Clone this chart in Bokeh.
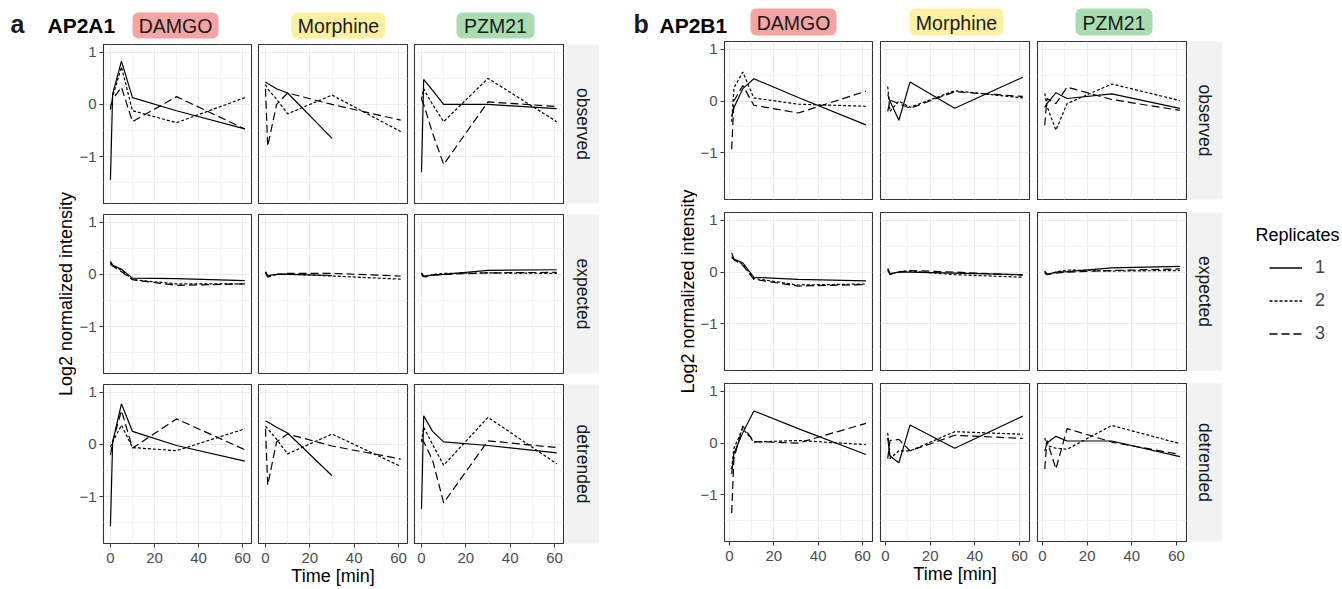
import math
from bokeh.plotting import figure
from bokeh.layouts import row, column
from bokeh.models import Range1d, FixedTicker, Legend, LegendItem, ColumnDataSource
from bokeh.embed import file_html
from bokeh.resources import INLINE
from bokeh.core.properties import value

FONT = "Liberation Sans"
NAN = float("nan")

# ---------------- data ----------------
ligands = ["DAMGO", "Morphine", "PZM21"]
ligand_colors = ["#F5A3A4", "#FDF0A0", "#A9DCB1"]
row_names = ["observed", "expected", "detrended"]
replicates = ["1", "2", "3"]
rep_dash = ["solid", "3 2", "8 4"]
genes = ["AP2A1", "AP2B1"]
panel_letters = ["a", "b"]
y_title = "Log2 normalized intensity"
x_title = "Time [min]"

x_ticks = [0, 20, 40, 60]
x_minor = [10, 30, 50]
y_ticks = [-1, 0, 1]
y_minor = [-1.5, -0.5, 0.5]

time_a = [0, 1, 5, 10, 30, 61]
time_b = [1, 2, 6, 11, 31, 61.5]

# AP2A1 (replicates 1, 2, 3)
a_obs_damgo = [[-1.45, 0.2, 0.83, 0.13, -0.12, -0.47], [-0.1, 0.15, 0.72, -0.12, -0.35, 0.13], [-0.05, 0.1, 0.33, -0.33, 0.15, -0.47]]
a_obs_morphine = [[0.43, 0.4, 0.3, 0.22, -0.65, None], [0.38, 0.3, 0.1, -0.18, 0.18, -0.52], [0.3, -0.8, 0.0, 0.22, 0.0, -0.3]]
a_obs_pzm21 = [[-1.3, 0.48, 0.27, 0.0, 0.0, -0.08], [0.1, 0.3, 0.0, -0.33, 0.5, -0.33], [0.1, 0.0, -0.55, -1.15, 0.05, -0.04]]
a_exp_damgo = [[0.25, 0.18, 0.1, -0.07, -0.08, -0.12], [0.22, 0.17, 0.08, -0.1, -0.18, -0.18], [0.2, 0.16, 0.05, -0.1, -0.21, -0.18]]
a_exp_morphine = [[0.05, -0.02, 0.0, 0.0, -0.02, None], [0.05, -0.03, 0.0, 0.01, -0.03, -0.09], [0.03, -0.05, 0.0, 0.02, 0.02, -0.03]]
a_exp_pzm21 = [[0.03, -0.04, -0.01, 0.0, 0.08, 0.09], [0.0, -0.06, 0.0, 0.02, 0.03, 0.02], [0.02, -0.03, -0.02, 0.0, 0.03, 0.04]]
a_det_damgo = [[-1.57, 0.05, 0.78, 0.25, -0.02, -0.32], [-0.05, 0.05, 0.37, -0.06, -0.12, 0.3], [-0.2, 0.05, 0.65, -0.07, 0.49, -0.1]]
a_det_morphine = [[0.45, 0.43, 0.33, 0.22, -0.6, None], [0.35, 0.3, 0.1, -0.18, 0.2, -0.42], [0.3, -0.78, 0.05, 0.2, -0.03, -0.28]]
a_det_pzm21 = [[-1.24, 0.55, 0.25, 0.05, -0.02, -0.16], [0.05, 0.33, 0.0, -0.4, 0.52, -0.37], [0.1, 0.05, -0.3, -1.12, 0.07, -0.06]]

# AP2B1 (replicates 1, 2, 3)
b_obs_damgo = [[-0.3, -0.13, 0.24, 0.43, 0.07, -0.46], [-0.4, 0.25, 0.56, 0.06, -0.06, -0.1], [-0.93, 0.0, 0.3, -0.08, -0.23, 0.19]]
b_obs_morphine = [[0.13, 0.0, -0.37, 0.37, -0.14, 0.46], [0.28, -0.2, 0.0, -0.12, 0.2, 0.06], [-0.2, 0.02, -0.05, -0.14, 0.18, 0.09]]
b_obs_pzm21 = [[-0.12, -0.05, 0.16, 0.05, 0.14, -0.14], [0.15, -0.1, -0.56, -0.05, 0.33, 0.01], [-0.47, 0.05, -0.05, 0.27, 0.03, -0.18]]
b_exp_damgo = [[0.37, 0.25, 0.18, -0.1, -0.14, -0.17], [0.3, 0.25, 0.15, -0.12, -0.25, -0.23], [0.28, 0.24, 0.13, -0.14, -0.27, -0.24]]
b_exp_morphine = [[0.07, -0.03, 0.0, 0.0, -0.02, -0.05], [0.05, -0.05, 0.01, 0.02, -0.05, -0.1], [0.03, -0.04, 0.0, 0.03, 0.0, -0.06]]
b_exp_pzm21 = [[0.02, -0.05, 0.0, 0.01, 0.08, 0.11], [-0.01, -0.06, 0.0, 0.04, 0.02, 0.03], [0.01, -0.04, -0.02, 0.0, 0.03, 0.06]]
b_det_damgo = [[-0.6, -0.2, 0.2, 0.62, 0.28, -0.22], [-0.5, -0.1, 0.28, 0.02, 0.05, -0.03], [-1.35, -0.3, 0.33, 0.03, 0.0, 0.38]]
b_det_morphine = [[0.1, -0.25, -0.38, 0.35, -0.1, 0.52], [0.2, -0.3, -0.15, -0.15, 0.22, 0.17], [-0.3, 0.05, 0.07, -0.15, 0.15, 0.09]]
b_det_pzm21 = [[-0.15, 0.0, 0.13, 0.04, 0.04, -0.26], [0.1, -0.05, -0.1, -0.12, 0.34, -0.01], [-0.5, 0.05, -0.5, 0.28, 0.02, -0.22]]

# ---------------- layout (pixels) ----------------
Y_RANGE = (-1.9, 1.15)
HDR_H = 40
FRAME_W = 149
BLOCK_H = 549

blocks = [
    dict(time=time_a, xr=(-3.15, 64.05),
         data=[[a_obs_damgo, a_obs_morphine, a_obs_pzm21],
               [a_exp_damgo, a_exp_morphine, a_exp_pzm21],
               [a_det_damgo, a_det_morphine, a_det_pzm21]],
         ylab_w=76, ylab_x=65, cols=[(26, 4), (3, 4), (3, 2)], strip_w=34,
         rows=[(4, 159, 5), (6, 159, 5), (6, 159, 46)]),
    dict(time=time_b, xr=(-2.24, 64.48),
         data=[[b_obs_damgo, b_obs_morphine, b_obs_pzm21],
               [b_exp_damgo, b_exp_morphine, b_exp_pzm21],
               [b_det_damgo, b_det_morphine, b_det_pzm21]],
         ylab_w=98, ylab_x=88, cols=[(26, 4), (4, 4), (4, 1)], strip_w=35,
         rows=[(1, 158, 6), (7, 158, 6), (7, 158, 48)]),
]


def style_axis(ax):
    ax.major_label_text_font = FONT
    ax.major_label_text_font_size = "15px"
    ax.major_label_text_color = "#4D4D4D"
    ax.major_tick_out = 4
    ax.major_tick_in = 0
    ax.major_tick_line_color = "#333333"
    ax.minor_tick_line_color = None
    ax.axis_line_color = None
    ax.major_label_standoff = 3


def bare(width, height, xr, yr, borders=(0, 0, 0, 0), title=None):
    l, r, t, b = borders
    f = figure(width=width, height=height, x_range=Range1d(*xr), y_range=Range1d(*yr),
               x_axis_location=None, y_axis_location=None,
               min_border_left=l, min_border_right=r, min_border_top=t, min_border_bottom=b,
               output_backend="svg", toolbar_location=None, title=title)
    f.grid.visible = False
    f.outline_line_color = None
    f.border_fill_color = "white"
    f.background_fill_color = "white"
    return f


def make_panel(time, series, xr, cb, rb, ri, ci):
    lb, rgt = cb
    tb, fh, bb = rb
    show_x = ri == 2
    show_y = ci == 0
    p = figure(width=lb + FRAME_W + rgt, height=tb + fh + bb,
               x_range=Range1d(*xr), y_range=Range1d(*Y_RANGE),
               x_axis_location="below" if show_x else None,
               y_axis_location="left" if show_y else None,
               min_border_left=lb, min_border_right=rgt, min_border_top=tb, min_border_bottom=bb,
               output_backend="svg", toolbar_location=None, title=None)
    p.xgrid.ticker = FixedTicker(ticks=x_ticks, minor_ticks=x_minor)
    p.ygrid.ticker = FixedTicker(ticks=y_ticks, minor_ticks=y_minor)
    p.grid.grid_line_color = "#EBEBEB"
    p.grid.grid_line_width = 1.1
    p.grid.minor_grid_line_color = "#F3F3F3"
    p.grid.minor_grid_line_width = 1
    p.outline_line_color = "#333333"
    p.outline_line_width = 1.1
    p.background_fill_color = "white"
    p.border_fill_color = "white"
    if show_x:
        p.xaxis.ticker = FixedTicker(ticks=x_ticks, minor_ticks=x_minor)
        style_axis(p.xaxis)
        p.xaxis.major_label_standoff = 5
        if ci == 1:
            p.xaxis.axis_label = x_title
            p.xaxis.axis_label_text_font = FONT
            p.xaxis.axis_label_text_font_size = "18px"
            p.xaxis.axis_label_text_font_style = "normal"
            p.xaxis.axis_label_text_color = "black"
            p.xaxis.axis_label_standoff = 0
    if show_y:
        p.yaxis.ticker = FixedTicker(ticks=y_ticks, minor_ticks=y_minor)
        style_axis(p.yaxis)
    for k, vals in enumerate(series):
        ys = [NAN if v is None else v for v in vals]
        src = ColumnDataSource(dict(t=time, v=ys))
        p.line("t", "v", source=src, line_color="black", line_width=1.2,
               line_dash=rep_dash[k])
    return p


def make_strip(name, w, rb):
    tb, fh, bb = rb
    s = bare(w, tb + fh + bb, (0, 1), (0, 1), (0, 0, tb, bb))
    s.background_fill_color = "#F2F2F2"
    s.text(x=[0.5], y=[0.5], text=[name], angle=-math.pi / 2,
           text_align="center", text_baseline="middle",
           text_font=value(FONT), text_font_size="17.5px", text_color="#1A1A1A")
    return s


def make_ylab(b):
    w = b["ylab_w"]
    r1, r2 = b["rows"][0], b["rows"][1]
    yc = HDR_H + r1[0] + r1[1] + r1[2] + r2[0] + r2[1] / 2
    f = bare(w, BLOCK_H, (0, w), (HDR_H + BLOCK_H, HDR_H))
    f.text(x=[b["ylab_x"]], y=[yc], text=[y_title], angle=math.pi / 2,
           text_align="center", text_baseline="middle",
           text_font=value(FONT), text_font_size="18px", text_color="black")
    return f


block_layouts = []
for b in blocks:
    rows_l = []
    for ri, rb in enumerate(b["rows"]):
        figs = [make_panel(b["time"], b["data"][ri][ci], b["xr"], cb, rb, ri, ci)
                for ci, cb in enumerate(b["cols"])]
        figs.append(make_strip(row_names[ri], b["strip_w"], rb))
        rows_l.append(row(figs, spacing=0))
    block_layouts.append(row([make_ylab(b), column(rows_l, spacing=0)], spacing=0))

# ---------------- legend ----------------
lg = bare(120, BLOCK_H, (0, 1), (0, 1), (47, 0, 217, 0), title="Replicates")
lg.title.text_font = FONT
lg.title.text_font_size = "18px"
lg.title.text_font_style = "normal"
lg.title.text_color = "black"
lg.title.align = "left"
lg.title.offset = -14
lg.title.standoff = 25
leg_items = []
for k, rep in enumerate(replicates):
    r = lg.line(x=[5, 6], y=[5, 5], line_color="black", line_width=1.6, line_dash=rep_dash[k])
    leg_items.append(LegendItem(label=rep, renderers=[r]))
legend = Legend(items=leg_items, location="top_left", margin=0, padding=0, spacing=12,
                glyph_width=33, glyph_height=21, label_height=21, label_standoff=13,
                label_text_font=FONT, label_text_font_size="18px",
                border_line_color=None, background_fill_alpha=0)
lg.add_layout(legend)

# ---------------- header ----------------
hdr = bare(1342, HDR_H, (0, 1342), (HDR_H, 0))

hdr_letter_x = [10, 633]
hdr_gene_x = [47, 659]
box_lr = [[(132, 218), (291, 385), (456, 534)], [(750, 836), (909, 1003), (1075, 1152)]]
box_tb = [(12, 38), (8, 35)]
for bi in range(2):
    hdr.text(x=[hdr_letter_x[bi]], y=[23], text=[panel_letters[bi]], text_align="left",
             text_baseline="middle", text_font=value(FONT), text_font_size="25px",
             text_font_style="bold", text_color="#1A1A1A")
    hdr.text(x=[hdr_gene_x[bi]], y=[24.5], text=[genes[bi]], text_align="left",
             text_baseline="middle", text_font=value(FONT), text_font_size="21px",
             text_font_style="bold", text_color="black")
    t, bt = box_tb[bi]
    for li in range(3):
        l, r = box_lr[bi][li]
        hdr.quad(left=[l], right=[r], top=[t], bottom=[bt], fill_color=ligand_colors[li],
                 line_color=None, border_radius=6)
        hdr.text(x=[(l + r) / 2], y=[(t + bt) / 2 + 0.5], text=[ligands[li]], text_align="center",
                 text_baseline="middle", text_font=value(FONT), text_font_size="19.5px",
                 text_color="#1A1A1A")

body = row([block_layouts[0], block_layouts[1], lg], spacing=0)
root = column([hdr, body], spacing=0)

open("out.html", "w").write(file_html(root, INLINE))
